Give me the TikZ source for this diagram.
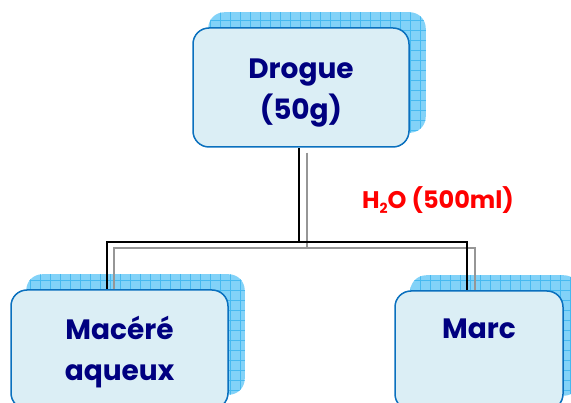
\documentclass[tikz,border=0pt]{standalone}
\usepackage{fontspec}
\setmainfont{Poppins}
\definecolor{boxfill}{RGB}{219,238,245}
\definecolor{boxborder}{RGB}{10,112,190}
\definecolor{shadowfill}{RGB}{130,210,248}
\definecolor{gridline}{RGB}{70,185,240}
\definecolor{navytext}{RGB}{0,0,128}
\definecolor{connshade}{RGB}{150,150,150}
\pgfdeclarelayer{shadowlayer}
\pgfdeclarelayer{connlayer}
\pgfsetlayers{shadowlayer,connlayer,main}
\newcommand\boxshadowof[1]{%
  \begin{scope}
    \clip[rounded corners=16pt] ([shift={(16,-15)}]#1.south west) rectangle ([shift={(16,-15)}]#1.north east);
    \fill[shadowfill] (0,0) rectangle (600,420);
    \draw[gridline, line width=0.5pt] (0,0) grid[step=10pt] (600,420);
  \end{scope}}
\begin{document}
\begin{tikzpicture}[x=1pt,y=-1pt,
  frontbox/.style={draw=boxborder, fill=boxfill, line width=1.5pt, rounded corners=16pt,
    align=center, font=\fontsize{28}{41}\selectfont\bfseries, text=navytext, inner sep=0pt},
  conn/.style={line width=2pt, draw=black},
  connshadow/.style={line width=2pt, draw=connshade},
  notelabel/.style={font=\fontsize{24}{28}\selectfont\bfseries, text=red, inner sep=0pt}]
\useasboundingbox (0,0) rectangle (571,403);

\node[frontbox, minimum width=216pt, minimum height=119pt] (drogue) at (301,87.5) {\rule{0pt}{31pt}Drogue\\(50g)};
\node[frontbox, minimum width=217pt, minimum height=119pt] (macere) at (119.5,349.5) {\rule{0pt}{29pt}Mac\'er\'e\\aqueux};
\node[frontbox, minimum width=168pt, minimum height=119pt] (marc) at (479,350.5) {Marc\\[2pt]~};

\node[notelabel] (water) at (438,200) {H{\fontsize{14}{14}\selectfont\raisebox{-5pt}{2}}O (500ml)};

\begin{pgfonlayer}{shadowlayer}
  \boxshadowof{drogue}
  \boxshadowof{macere}
  \boxshadowof{marc}
\end{pgfonlayer}

\coordinate (junction) at (299,242);
\coordinate (gjunction) at (307,248);
\begin{pgfonlayer}{connlayer}
  \draw[connshadow] ([yshift=-5pt]drogue.south -| gjunction) -- (gjunction);
  \draw[connshadow] ([xshift=-5.5pt]macere.north) |- (gjunction) -| ([xshift=-4pt]marc.north);
  \draw[conn] (drogue.south -| junction) -- (junction);
  \draw[conn] ([xshift=-12.5pt]macere.north) |- (junction) -| ([xshift=-12pt]marc.north);
\end{pgfonlayer}
\end{tikzpicture}
\end{document}
